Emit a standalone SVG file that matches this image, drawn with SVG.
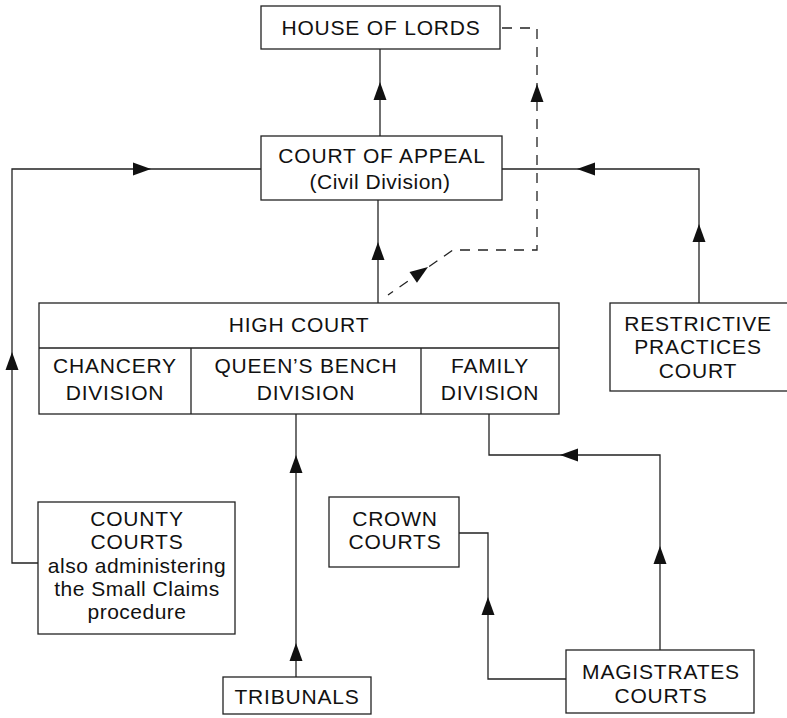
<svg xmlns="http://www.w3.org/2000/svg" xmlns:xlink="http://www.w3.org/1999/xlink" width="787" height="718" viewBox="0 0 787 718">
<style>
.box{fill:#fff;stroke:#222;stroke-width:1.3}
.ln{fill:none;stroke:#222;stroke-width:1.3}
.dash{fill:none;stroke:#222;stroke-width:1.3;stroke-dasharray:10 8}
text{font-family:"Liberation Sans",Arial,sans-serif;font-size:21px;fill:#111;text-anchor:middle;letter-spacing:0.8px}
.lc{letter-spacing:0.5px}
.ah{fill:#111}
</style>
<defs>
<path id="ah" class="ah" d="M0,0 L6.5,18 L-6.5,18 Z"/>
</defs>
<rect width="787" height="718" fill="#fff"/>
<g id="connectors">
<path class="ln" d="M380,49 V136"/>
<path class="ln" d="M378,200 V303"/>
<path class="dash" d="M502,28 H537 V250 H453 L388,295"/>
<path class="ln" d="M38,563 H12 V169 H261"/>
<path class="ln" d="M502,169 H699 V303"/>
<path class="ln" d="M489,414 V455 H660 V650"/>
<path class="ln" d="M459,533 H488 V679 H566"/>
<path class="ln" d="M296,414 V677"/>
<use xlink:href="#ah" transform="translate(380,82)"/>
<use xlink:href="#ah" transform="translate(378,242)"/>
<use xlink:href="#ah" transform="translate(537,84)"/>
<use xlink:href="#ah" transform="translate(428,267) rotate(55)"/>
<use xlink:href="#ah" transform="translate(12,352)"/>
<use xlink:href="#ah" transform="translate(151,169) rotate(90)"/>
<use xlink:href="#ah" transform="translate(699,224)"/>
<use xlink:href="#ah" transform="translate(577,169) rotate(-90)"/>
<use xlink:href="#ah" transform="translate(560,455) rotate(-90)"/>
<use xlink:href="#ah" transform="translate(660,546)"/>
<use xlink:href="#ah" transform="translate(488,597)"/>
<use xlink:href="#ah" transform="translate(296,643)"/>
<use xlink:href="#ah" transform="translate(296,455)"/>
</g>
<g id="house-of-lords">
<rect class="box" x="261" y="6" width="239" height="43"/>
<text x="381" y="35">HOUSE OF LORDS</text>
</g>
<g id="court-of-appeal">
<rect class="box" x="261" y="136" width="241" height="64"/>
<text x="382" y="163">COURT OF APPEAL</text>
<text x="380" y="189" class="lc">(Civil Division)</text>
</g>
<g id="high-court">
<rect class="box" x="39" y="303" width="520" height="111"/>
<path class="ln" d="M39,348 H559 M191,348 V414 M421,348 V414"/>
<text x="299" y="332">HIGH COURT</text>
<text x="115" y="373">CHANCERY</text>
<text x="115" y="400">DIVISION</text>
<text x="306" y="373">QUEEN’S BENCH</text>
<text x="306" y="400">DIVISION</text>
<text x="490" y="373">FAMILY</text>
<text x="490" y="400">DIVISION</text>
</g>
<g id="restrictive-practices-court">
<rect class="box" x="610" y="303" width="185" height="88"/>
<text x="698" y="331">RESTRICTIVE</text>
<text x="698" y="354">PRACTICES</text>
<text x="698" y="378">COURT</text>
</g>
<g id="county-courts">
<rect class="box" x="38" y="502" width="197" height="132"/>
<text x="137" y="526">COUNTY</text>
<text x="137" y="549">COURTS</text>
<text x="137" y="573" class="lc">also administering</text>
<text x="137" y="596" class="lc">the Small Claims</text>
<text x="137" y="619" class="lc">procedure</text>
</g>
<g id="crown-courts">
<rect class="box" x="329" y="497" width="130" height="70"/>
<text x="395" y="526">CROWN</text>
<text x="395" y="549">COURTS</text>
</g>
<g id="tribunals">
<rect class="box" x="223" y="677" width="148" height="37"/>
<text x="297" y="704">TRIBUNALS</text>
</g>
<g id="magistrates-courts">
<rect class="box" x="566" y="650" width="188" height="63"/>
<text x="661" y="679">MAGISTRATES</text>
<text x="661" y="703">COURTS</text>
</g>
</svg>
